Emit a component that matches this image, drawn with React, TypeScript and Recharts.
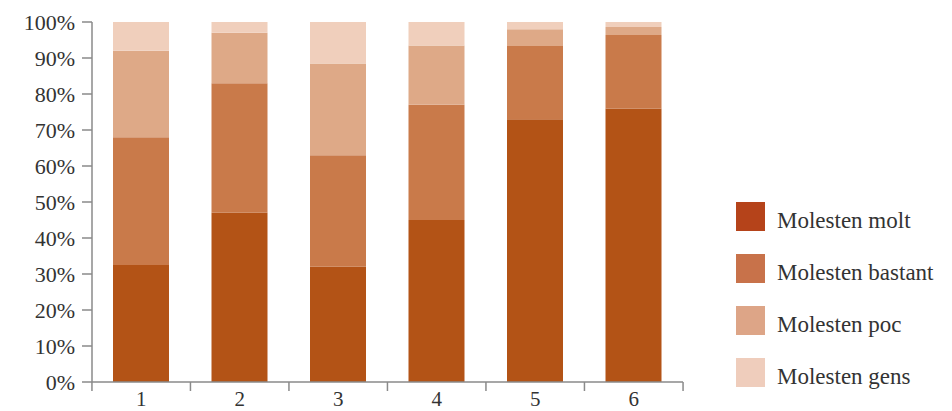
import React from 'react';
import { BarChart, Bar, XAxis, YAxis } from 'recharts';

const categories = ['1', '2', '3', '4', '5', '6'];
const molt = [32.5, 47, 32, 45, 73, 76];
const bastant = [35.5, 36, 31, 32, 20.3, 20.4];
const poc = [24, 14, 25.5, 16.5, 4.7, 2.2];
const gens = [8, 3, 11.5, 6.5, 2, 1.4];
const yTicks = [0, 10, 20, 30, 40, 50, 60, 70, 80, 90, 100];

const seriesNames = ['Molesten molt', 'Molesten bastant', 'Molesten poc', 'Molesten gens'];
const barColors = ['#B35316', '#C97A4A', '#DEA987', '#F0CFBC'];
const legendColors = ['#B5431A', '#C8724A', '#DDA587', '#EFCDBC'];

const data = categories.map((c, i) => ({
  name: c,
  molt: molt[i],
  bastant: bastant[i],
  poc: poc[i],
  gens: gens[i],
}));

const FONT = '"Liberation Serif", "DejaVu Serif", serif';
const AXIS = '#8a8a8a';

const XTick = (props: any) => {
  const { x, y, payload, index } = props;
  const half = 49.3;
  return (
    <g>
      <line x1={x - half} y1={y - 8} x2={x - half} y2={y + 1} stroke={AXIS} strokeWidth={1.5} />
      {index === categories.length - 1 && (
        <line x1={x + half} y1={y - 8} x2={x + half} y2={y + 1} stroke={AXIS} strokeWidth={1.5} />
      )}
      <text x={x} y={y + 16} textAnchor="middle" fontFamily={FONT} fontSize={21} fill="#333">
        {payload.value}
      </text>
    </g>
  );
};

export default function App() {
  return (
    <div style={{ position: 'absolute', left: 0, top: 0, width: 952, height: 411, background: '#fff' }}>
      <BarChart width={952} height={411} data={data} margin={{ top: 22, right: 269, bottom: 0, left: 2 }}>
        <XAxis
          dataKey="name"
          axisLine={{ stroke: AXIS, strokeWidth: 1.5 }}
          tickLine={false}
          tick={<XTick />}
          height={29}
          interval={0}
        />
        <YAxis
          domain={[0, 100]}
          ticks={yTicks}
          width={90}
          interval={0}
          tickFormatter={(v: number) => `${v}%`}
          axisLine={{ stroke: AXIS, strokeWidth: 1.5 }}
          tickLine={{ stroke: AXIS, strokeWidth: 1.5 }}
          tickSize={10}
          tickMargin={7}
          tick={{ fontFamily: FONT, fontSize: 22, fill: '#333' }}
        />
        <Bar dataKey="molt" stackId="a" fill={barColors[0]} barSize={56} isAnimationActive={false} />
        <Bar dataKey="bastant" stackId="a" fill={barColors[1]} barSize={56} isAnimationActive={false} />
        <Bar dataKey="poc" stackId="a" fill={barColors[2]} barSize={56} isAnimationActive={false} />
        <Bar dataKey="gens" stackId="a" fill={barColors[3]} barSize={56} isAnimationActive={false} />
      </BarChart>
      <div style={{ position: 'absolute', left: 736, top: 202, fontFamily: FONT }}>
        {seriesNames.map((n, i) => (
          <div key={n} style={{ display: 'flex', alignItems: 'center', height: 29, marginBottom: 23 }}>
            <div style={{ width: 29, height: 29, background: legendColors[i], marginRight: 12 }} />
            <span style={{ fontSize: 23, color: '#333', position: 'relative', top: 4, whiteSpace: 'nowrap' }}>{n}</span>
          </div>
        ))}
      </div>
    </div>
  );
}
